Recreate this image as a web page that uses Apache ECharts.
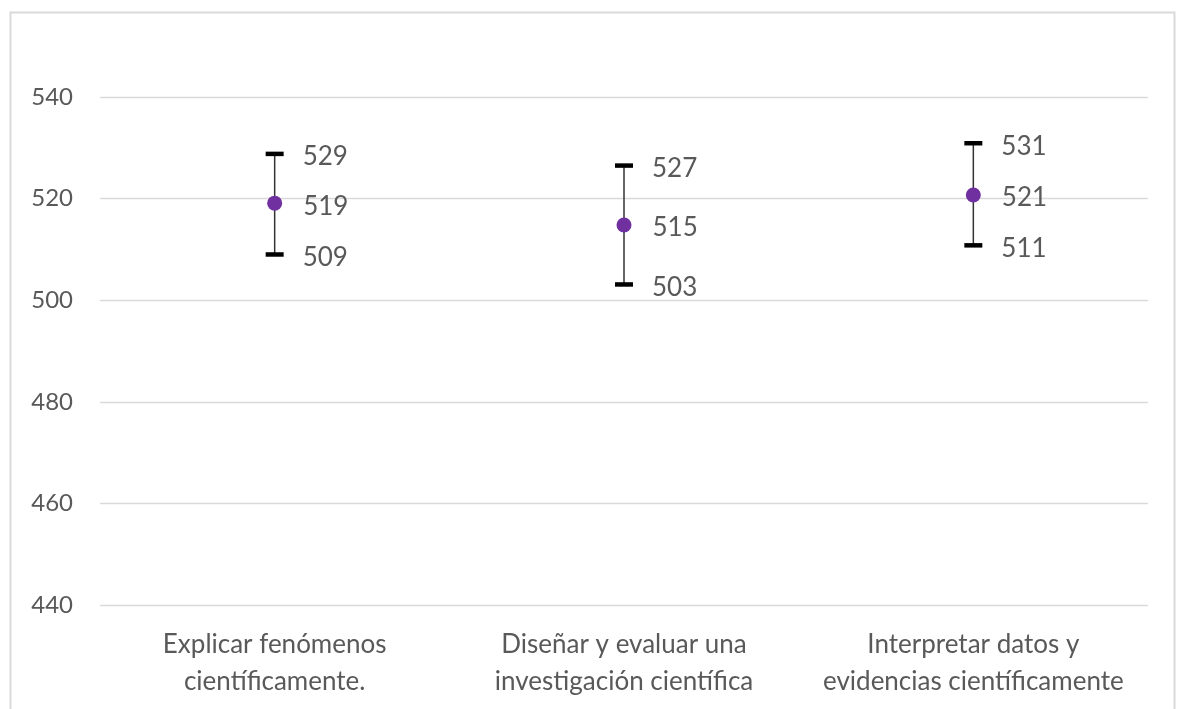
<!DOCTYPE html>
<html>
<head>
<meta charset="utf-8">
<script src="https://cdn.jsdelivr.net/npm/echarts@6/dist/echarts.min.js"></script>
<style>
html,body{margin:0;padding:0;background:#fff;}
#c{width:1180px;height:709px;}
</style>
</head>
<body>
<div id="c"></div>
<script>
var categories = ['Explicar fenómenos\ncientíficamente.', 'Diseñar y evaluar una\ninvestigación científica', 'Interpretar datos y\nevidencias científicamente'];
var means = [519.1, 514.8, 520.7];
var upper = [528.8, 526.5, 530.9];
var lower = [509.0, 503.1, 510.8];
var yTicks = [440, 460, 480, 500, 520, 540];

var FONT = 'Lato';
var chart = echarts.init(document.getElementById('c'));
var errData = categories.map(function (c, i) { return [i, lower[i], upper[i]]; });

chart.setOption({
  animation: false,
  backgroundColor: '#ffffff',
  graphic: [{
    type: 'rect', left: 8, top: 10, z: -10,
    shape: { width: 1164, height: 720 },
    style: { fill: 'none', stroke: '#d9d9d9', lineWidth: 2 }
  }],
  grid: { left: 100, right: 32, top: 97, bottom: 104, containLabel: false },
  xAxis: {
    type: 'category', data: categories, boundaryGap: true,
    axisLine: { show: false }, axisTick: { show: false },
    axisLabel: { color: '#595959', fontFamily: FONT, fontSize: 26, lineHeight: 37, margin: 21, interval: 0 }
  },
  yAxis: {
    type: 'value', min: yTicks[0], max: yTicks[yTicks.length - 1], interval: 20,
    axisLine: { show: false }, axisTick: { show: false },
    axisLabel: { color: '#595959', fontFamily: FONT, fontSize: 24, margin: 27 },
    splitLine: { lineStyle: { color: '#d9d9d9', width: 1.3 } }
  },
  series: [{
    type: 'custom',
    data: errData,
    z: 2,
    renderItem: function (params, api) {
      var x = api.value(0);
      var lo = api.coord([x, api.value(1)]);
      var hi = api.coord([x, api.value(2)]);
      var cw = 9;
      var lab = { fill: '#595959', fontFamily: FONT, fontSize: 26, textVerticalAlign: 'middle', textAlign: 'left' };
      return {
        type: 'group',
        children: [
          { type: 'line', shape: { x1: hi[0], y1: hi[1], x2: lo[0], y2: lo[1] }, style: { stroke: '#333', lineWidth: 1.5 } },
          { type: 'line', shape: { x1: hi[0] - cw, y1: hi[1], x2: hi[0] + cw, y2: hi[1] }, style: { stroke: '#000', lineWidth: 4.5 } },
          { type: 'line', shape: { x1: lo[0] - cw, y1: lo[1], x2: lo[0] + cw, y2: lo[1] }, style: { stroke: '#000', lineWidth: 4.5 } },
          { type: 'text', style: Object.assign({ x: hi[0] + 28, y: hi[1] + 3, text: String(Math.round(api.value(2))) }, lab) },
          { type: 'text', style: Object.assign({ x: lo[0] + 28, y: lo[1] + 3, text: String(Math.round(api.value(1))) }, lab) }
        ]
      };
    }
  }, {
    type: 'scatter',
    data: means,
    z: 3,
    symbol: 'circle', symbolSize: 15,
    itemStyle: { color: '#7030A0', opacity: 1 },
    label: {
      show: true, position: 'right', distance: 21,
      color: '#595959', fontFamily: FONT, fontSize: 26, offset: [0, 3],
      formatter: function (p) { return String(Math.round(p.value)); }
    }
  }]
});
</script>
</body>
</html>
